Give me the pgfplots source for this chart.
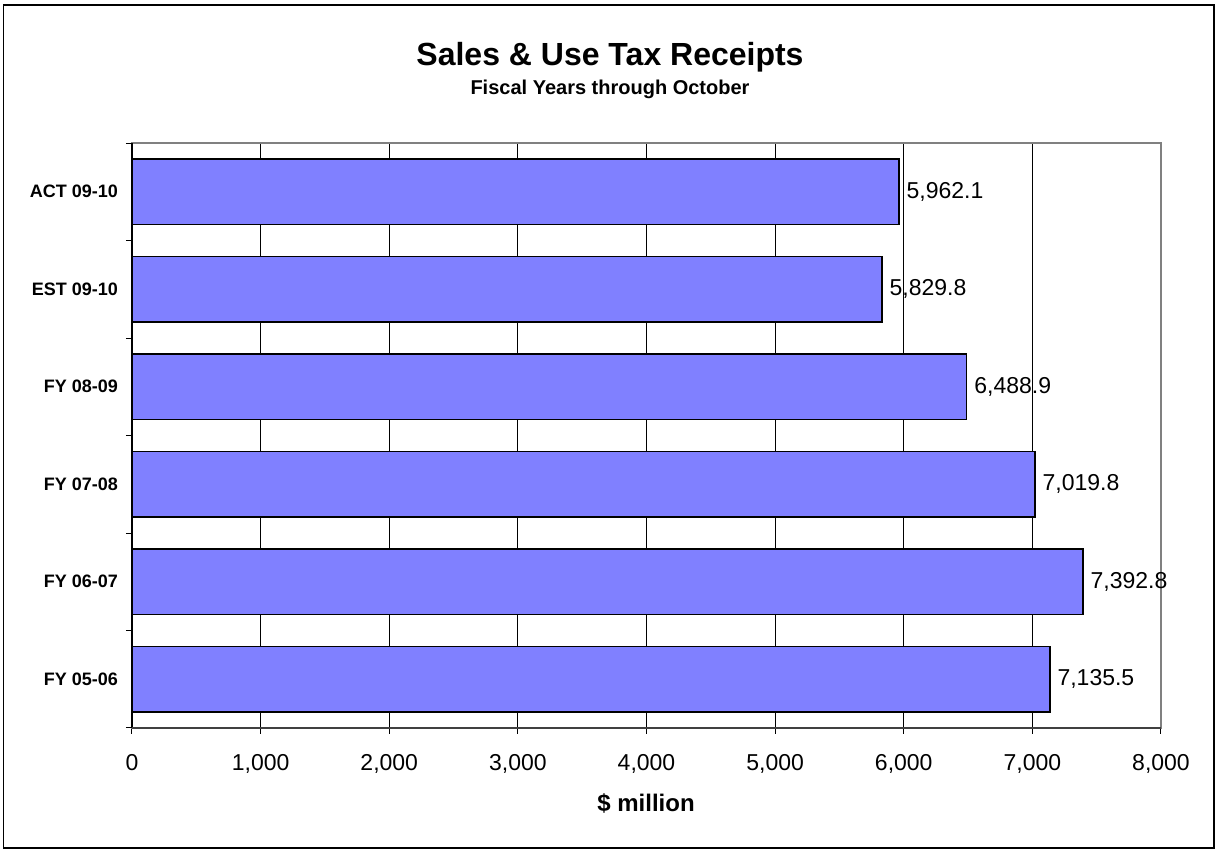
\documentclass[border=0pt]{standalone}
\usepackage{fontspec}
\setmainfont{Liberation Sans}
\usepackage{pgfplots}
\pgfplotsset{compat=1.18}
\definecolor{barblue}{HTML}{8080FF}
\definecolor{framegray}{HTML}{808080}
\begin{document}
\begin{tikzpicture}
\path[use as bounding box] (0pt,0pt) rectangle (610pt,428pt);
\draw[line width=0.8pt] (1.75pt,4pt) rectangle (607pt,425.5pt);
\begin{axis}[
  at={(66pt,64pt)}, anchor=south west,
  scale only axis, width=514.5pt, height=292.5pt,
  xmin=0, xmax=8000, ymin=-0.5, ymax=5.5,
  clip=false,
  axis line style={draw=framegray, line width=0.8pt},
  tick align=outside,
  xtick pos=bottom, ytick pos=left,
  xtick={0,1000,...,8000},
  major tick length=3pt,
  tick style={black, line width=0.5pt},
  xmajorgrids,
  grid style={black, line width=0.5pt},
  /pgf/number format/1000 sep={,},
  /pgf/number format/assume math mode=true,
  xticklabel style={font=\fontsize{11.5}{13}\selectfont, yshift=-6.5pt},
  ytick={-0.5,0.5,...,5.5},
  yticklabels={},
  extra y ticks={0,1,2,3,4,5},
  extra y tick labels={FY 05-06, FY 06-07, FY 07-08, FY 08-09, EST 09-10, ACT 09-10},
  extra y tick style={major tick length=0pt, yticklabel style={font=\bfseries\fontsize{9}{11}\selectfont, xshift=-3.5pt}},
]
\addplot[xbar, fill=barblue, draw=black, line width=0.75pt, bar width=0.667,
  point meta=x,
  nodes near coords={\pgfmathprintnumber[fixed, fixed zerofill, precision=1, 1000 sep={,}]{\pgfplotspointmeta}},
  nodes near coords style={anchor=west, inner sep=0pt, xshift=3.5pt, black, font=\fontsize{11.5}{13}\selectfont}]
  coordinates {(7135.5,0) (7392.8,1) (7019.8,2) (6488.9,3) (5829.8,4) (5962.1,5)};
\draw[black, line width=0.6pt] (axis cs:0,-0.5) -- (axis cs:0,5.5);
\draw[black!75, line width=0.6pt] (axis cs:0,-0.5) -- (axis cs:8000,-0.5);
\end{axis}
\node[anchor=base, font=\bfseries\fontsize{16}{19}\selectfont] at (305pt,395pt) {Sales \& Use Tax Receipts};
\node[anchor=base, font=\bfseries\fontsize{10}{12}\selectfont] at (305pt,380.5pt) {Fiscal Years through October};
\node[anchor=base, font=\bfseries\fontsize{12}{14}\selectfont] at (323pt,22pt) {\$ million};
\end{tikzpicture}
\end{document}
